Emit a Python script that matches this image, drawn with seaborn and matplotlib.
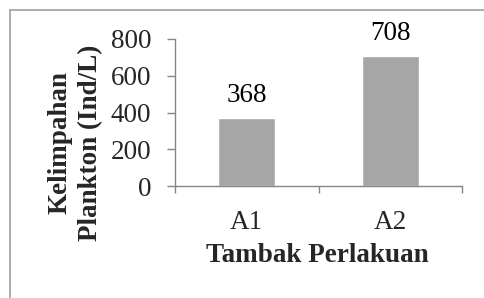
import matplotlib
matplotlib.use("Agg")
import matplotlib.pyplot as plt
import seaborn as sns
import pandas as pd
from matplotlib.lines import Line2D

# data
categories = ["A1", "A2"]
values = [368, 708]
y_ticks = [0, 200, 400, 600, 800]

df = pd.DataFrame({"Tambak": categories, "Kelimpahan": values})

sns.set_theme(style="white")
plt.rcParams["font.family"] = ["Liberation Serif", "DejaVu Serif"]

FS = 19.5
fig = plt.figure(figsize=(4.84, 2.98), dpi=100)
ax = fig.add_axes([175 / 484, 1 - 186 / 298, 287 / 484, 147 / 298])

sns.barplot(data=df, x="Tambak", y="Kelimpahan", color="#a6a6a6",
            saturation=1, width=0.4, ax=ax)

for patch, v in zip(ax.patches, values):
    ax.text(patch.get_x() + patch.get_width() / 2, v + 87, f"{v}",
            ha="center", va="baseline", fontsize=FS, color="black")

ax.set_xlim(-0.5, 1.5)
ax.set_ylim(0, 800)
ax.set_yticks(y_ticks)
ax.set_xlabel("")
ax.set_ylabel("")

axis_col = "#868686"
for side in ["top", "right"]:
    ax.spines[side].set_visible(False)
for side in ["left", "bottom"]:
    ax.spines[side].set_color(axis_col)
    ax.spines[side].set_linewidth(1.0)

ax.tick_params(axis="y", which="major", length=6, width=1, color=axis_col,
               labelsize=FS, pad=11, left=True)
ax.tick_params(axis="x", which="major", length=0, labelsize=FS, pad=17)
ax.set_xticks([-0.5, 0.5, 1.5], minor=True)
ax.tick_params(axis="x", which="minor", length=5, width=1, color=axis_col, bottom=True)

fig.text(317 / 484, 1 - 255 / 298, "Tambak Perlakuan", ha="center", va="center",
         fontsize=FS, fontweight="bold")
fig.text(75 / 484, 1 - 143 / 298, "Kelimpahan\nPlankton (Ind/L)", ha="center", va="center",
         rotation=90, fontsize=FS, fontweight="bold", linespacing=1.3)

# outer frame
fig.add_artist(Line2D([10 / 484, 10 / 484], [0, 1 - 10 / 298], transform=fig.transFigure,
                      color="#a0a0a0", linewidth=1.2))
fig.add_artist(Line2D([10 / 484, 1], [1 - 10 / 298, 1 - 10 / 298], transform=fig.transFigure,
                      color="#a0a0a0", linewidth=1.2))

fig.savefig("out.png", dpi=100)
